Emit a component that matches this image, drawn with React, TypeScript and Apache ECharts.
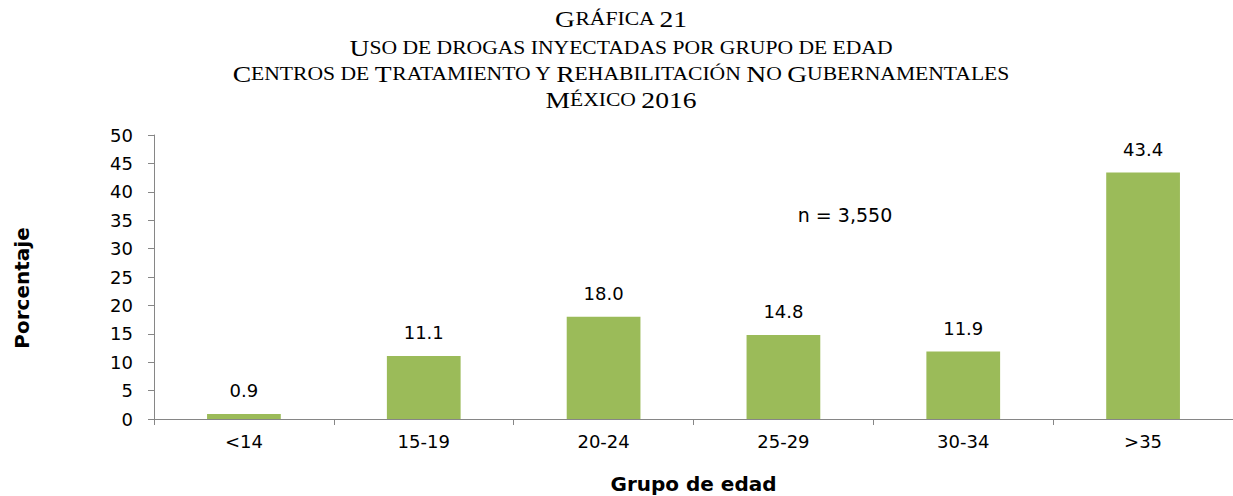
import React, { useEffect, useRef } from "react";
import * as echarts from "echarts";

const categories = ["<14", "15-19", "20-24", "25-29", "30-34", ">35"];
const values = [0.9, 11.1, 18.0, 14.8, 11.9, 43.4];
const titleLines = [
  "Gráfica 21",
  "Uso de drogas inyectadas por grupo de edad",
  "Centros de Tratamiento y Rehabilitación No Gubernamentales",
  "México 2016",
];
const sampleNote = "n = 3,550";
const yAxisName = "Porcentaje";
const xAxisName = "Grupo de edad";

function smallCaps(line: string): string {
  let out = "";
  let cur = "";
  let curType = "";
  const flush = () => {
    if (cur) out += `{${curType}|${cur}}`;
    cur = "";
  };
  for (const ch of line) {
    let type: string;
    let c = ch;
    if (ch === " ") {
      type = curType || "b";
    } else if (ch !== ch.toUpperCase()) {
      type = "s";
      c = ch.toUpperCase();
    } else {
      type = "b";
    }
    if (type !== curType) {
      flush();
      curType = type;
    }
    cur += c;
  }
  flush();
  return out;
}

export default function App() {
  const ref = useRef<HTMLDivElement>(null);
  useEffect(() => {
    document.body.style.margin = "0";
    const chart = echarts.init(ref.current!, null, { renderer: "svg" });
    const serif = "Liberation Serif";
    const sans = "DejaVu Sans";
    const titleY = [19, 48, 74, 100];
    chart.setOption({
      animation: false,
      grid: {
        left: 154,
        right: 0,
        top: 135,
        bottom: 77,
        containLabel: false,
        outerBoundsMode: "none",
      },
      xAxis: {
        type: "category",
        data: categories,
        axisLine: { lineStyle: { color: "#868686", width: 1 } },
        axisTick: { show: true, length: 6, lineStyle: { color: "#868686" } },
        axisLabel: { color: "#000", fontFamily: sans, fontSize: 18, margin: 13 },
        name: xAxisName,
        nameLocation: "middle",
        nameGap: 55,
        nameTextStyle: { color: "#000", fontFamily: sans, fontSize: 20, fontWeight: "bold" },
      },
      yAxis: {
        type: "value",
        min: 0,
        max: 50,
        interval: 5,
        axisLine: { show: true, lineStyle: { color: "#868686", width: 1 } },
        axisTick: { show: true, length: 6, lineStyle: { color: "#868686" } },
        splitLine: { show: false },
        axisLabel: { color: "#000", fontFamily: sans, fontSize: 18, margin: 21 },
      },
      series: [
        {
          type: "bar",
          data: values,
          barWidth: "41%",
          itemStyle: { color: "#9BBB59" },
          label: {
            show: true,
            position: "top",
            distance: 14,
            color: "#000",
            fontFamily: sans,
            fontSize: 18,
            formatter: (p: any) => Number(p.value).toFixed(1),
          },
        },
      ],
      graphic: [
        ...titleLines.map((t, i) => ({
          type: "text",
          x: 621,
          y: titleY[i],
          scaleX: 1.2,
          style: {
            text: smallCaps(t),
            textAlign: "center",
            textVerticalAlign: "middle",
            rich: {
              b: { fontFamily: serif, fontSize: 23, fill: "#000" },
              s: { fontFamily: serif, fontSize: 18, fill: "#000" },
            },
          },
        })),
        {
          type: "text",
          x: 845,
          y: 215,
          style: {
            text: sampleNote,
            textAlign: "center",
            textVerticalAlign: "middle",
            fontFamily: sans,
            fontSize: 19,
            fill: "#000",
          },
        },
        {
          type: "text",
          x: 22,
          y: 288,
          rotation: Math.PI / 2,
          style: {
            text: yAxisName,
            textAlign: "center",
            textVerticalAlign: "middle",
            fontFamily: sans,
            fontSize: 20,
            fontWeight: "bold",
            fill: "#000",
          },
        },
      ],
    });
    return () => chart.dispose();
  }, []);
  return <div ref={ref} style={{ width: 1233, height: 496 }} />;
}
